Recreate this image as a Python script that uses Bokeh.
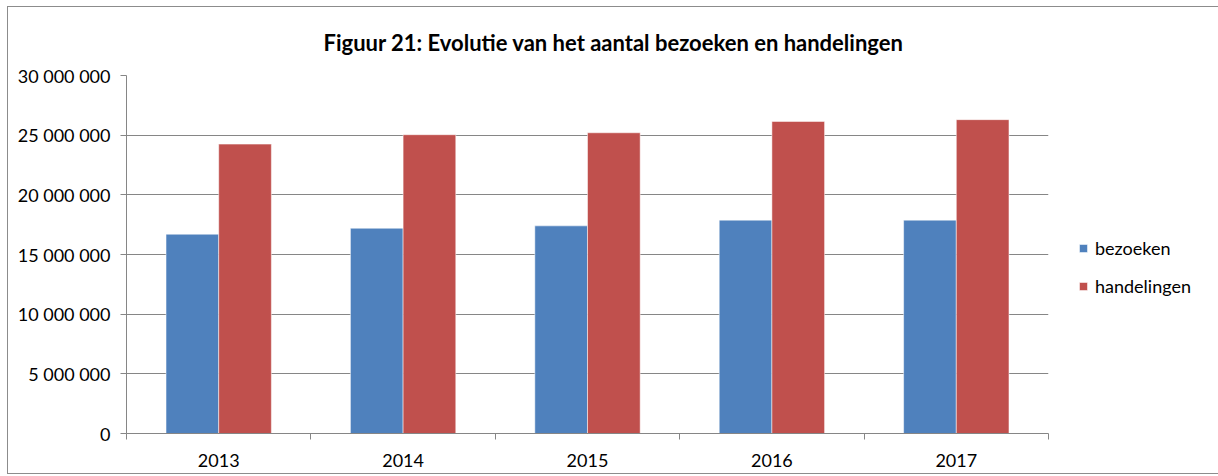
from bokeh.plotting import figure
from bokeh.models import ColumnDataSource, FixedTicker, Legend, LegendItem, Range1d, Title
from bokeh.transform import dodge
from bokeh.embed import file_html
from bokeh.resources import INLINE

years = ["2013", "2014", "2015", "2016", "2017"]
bezoeken = [16700000, 17200000, 17400000, 17880000, 17880000]
handelingen = [24250000, 25040000, 25200000, 26150000, 26300000]
y_ticks = [0, 5000000, 10000000, 15000000, 20000000, 25000000, 30000000]

pos = [i + 0.5 for i in range(len(years))]
src = ColumnDataSource(dict(x=pos, bezoeken=bezoeken, handelingen=handelingen))

FONT = "Lato"
GRAY = "#868686"

p = figure(frame_width=922, frame_height=358, output_backend="svg", toolbar_location=None,
           x_range=Range1d(0, len(years)), y_range=Range1d(0, 30000000),
           min_border_left=118, min_border_right=160, min_border_top=67, min_border_bottom=40)
p.styles = {"border": "1px solid #8c8c8c", "margin-left": "7px", "margin-top": "6px"}
p.outline_line_color = None
p.background_fill_color = "white"

bw = 0.2857
r1 = p.vbar(x=dodge("x", -bw / 2, range=p.x_range), top="bezoeken", width=bw, source=src,
            fill_color="#4F81BD", line_color="white", line_alpha=0.5, line_width=1)
r2 = p.vbar(x=dodge("x", bw / 2, range=p.x_range), top="handelingen", width=bw, source=src,
            fill_color="#C0504D", line_color="white", line_alpha=0.5, line_width=1)

t = Title(text="Figuur 21: Evolutie van het aantal bezoeken en handelingen", align="left",
          text_font=FONT, text_font_size="22px", text_font_style="bold", text_color="#000000",
          standoff=39, offset=197)
p.add_layout(t, "above")

# x axis
p.xaxis.ticker = FixedTicker(ticks=pos, minor_ticks=list(range(len(years) + 1)))
p.xaxis.major_label_overrides = {pv: y for pv, y in zip(pos, years)}
p.xaxis.major_tick_line_color = None
p.xaxis.minor_tick_out = 6
p.xaxis.minor_tick_in = 0
p.xaxis.minor_tick_line_color = GRAY
p.xaxis.axis_line_color = GRAY
p.xaxis.major_label_text_font = FONT
p.xaxis.major_label_text_font_size = "18px"
p.xaxis.major_label_text_color = "#000000"
p.xaxis.major_label_standoff = 14
p.xgrid.grid_line_color = None

# y axis
p.yaxis.ticker = FixedTicker(ticks=y_ticks, minor_ticks=[])
p.yaxis.major_label_overrides = {v: f"{v:,}".replace(",", " ") for v in y_ticks}
p.yaxis.major_tick_out = 6
p.yaxis.major_tick_in = 0
p.yaxis.major_tick_line_color = GRAY
p.yaxis.axis_line_color = GRAY
p.yaxis.major_label_text_font = FONT
p.yaxis.major_label_text_font_size = "18px"
p.yaxis.major_label_text_color = "#000000"
p.yaxis.major_label_standoff = 10
p.ygrid.grid_line_color = GRAY
p.ygrid.grid_line_width = 1

legend = Legend(items=[LegendItem(label="bezoeken", renderers=[r1]),
                       LegendItem(label="handelingen", renderers=[r2])],
                location=(30, 136), border_line_color=None, background_fill_alpha=0,
                label_text_font=FONT, label_text_font_size="18px", label_text_color="#000000",
                glyph_width=10, glyph_height=10, label_standoff=7, spacing=16,
                padding=0, margin=0)
p.add_layout(legend, "right")

open("out.html", "w").write(file_html(p, INLINE))
